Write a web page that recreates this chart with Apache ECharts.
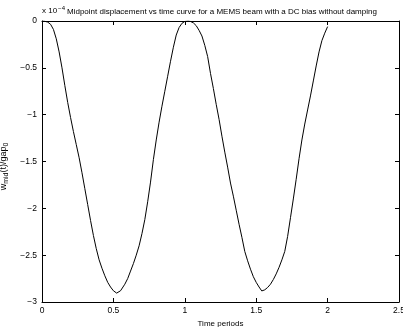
<!DOCTYPE html>
<html>
<head>
<meta charset="utf-8">
<script src="https://cdn.jsdelivr.net/npm/echarts@6/dist/echarts.min.js"></script>
<style>
    html, body { margin: 0; padding: 0; background: #fff; }
    #chart { width: 403px; height: 327px; }
</style>
</head>
<body>
<div id="chart"></div>
<script>
// time in periods, midpoint displacement in units of 1e-4
const timePeriods = [
    0, 0.02, 0.04, 0.06, 0.08, 0.10, 0.12, 0.14, 0.16, 0.18,
    0.20, 0.22, 0.24, 0.26, 0.28, 0.30, 0.32, 0.34, 0.36, 0.38,
    0.40, 0.42, 0.44, 0.46, 0.48, 0.50, 0.523, 0.55, 0.58, 0.60,
    0.62, 0.64, 0.66, 0.68, 0.70, 0.72, 0.74, 0.76, 0.78, 0.80,
    0.82, 0.84, 0.86, 0.88, 0.90, 0.92, 0.94, 0.96, 0.98, 1.00,
    1.024, 1.04, 1.06, 1.08, 1.10, 1.12, 1.14, 1.16, 1.18, 1.20,
    1.22, 1.24, 1.26, 1.28, 1.30, 1.32, 1.34, 1.36, 1.38, 1.40,
    1.42, 1.44, 1.46, 1.48, 1.50, 1.52, 1.539, 1.56, 1.58, 1.60,
    1.62, 1.64, 1.66, 1.68, 1.70, 1.72, 1.74, 1.76, 1.78, 1.80,
    1.82, 1.84, 1.86, 1.88, 1.90, 1.92, 1.94, 1.96, 1.98, 2.00
];
const midDisplacement = [
    0, -0.003, -0.012, -0.035, -0.09, -0.19, -0.33, -0.50, -0.69, -0.87,
    -1.03, -1.18, -1.32, -1.46, -1.62, -1.79, -1.96, -2.13, -2.29, -2.43,
    -2.55, -2.64, -2.72, -2.79, -2.84, -2.88, -2.905, -2.88, -2.81, -2.75,
    -2.67, -2.59, -2.50, -2.40, -2.27, -2.12, -1.93, -1.72, -1.48, -1.27,
    -1.08, -0.91, -0.75, -0.59, -0.43, -0.28, -0.15, -0.07, -0.025, -0.005,
    0, -0.005, -0.02, -0.05, -0.10, -0.16, -0.26, -0.38, -0.56, -0.72,
    -0.89, -1.05, -1.23, -1.40, -1.56, -1.73, -1.87, -2.02, -2.17, -2.31,
    -2.46, -2.56, -2.65, -2.73, -2.79, -2.84, -2.882, -2.87, -2.845, -2.81,
    -2.76, -2.70, -2.63, -2.55, -2.46, -2.30, -2.10, -1.90, -1.69, -1.47,
    -1.27, -1.10, -0.95, -0.80, -0.64, -0.48, -0.33, -0.21, -0.13, -0.06
];

const font = "'Liberation Sans', Arial, sans-serif";
const fmt = v => String(v).replace("-", "\u2212");

// matlab-style box: ticks pointing in on all four sides
const axisLine = { show: true, onZero: false, lineStyle: { color: "#000", width: 1 } };
const axisTick = { show: true, inside: true, length: 4, lineStyle: { color: "#000" } };
const axisLabel = { fontSize: 8.5, color: "#000", fontFamily: font, formatter: fmt };

const chart = echarts.init(document.getElementById("chart"), null, { renderer: "canvas" });

chart.setOption({
    animation: false,
    backgroundColor: "#fff",
    title: {
        text: "Midpoint displacement vs time curve for a MEMS beam with a DC bias without damping",
        left: 67,
        top: 8,
        padding: 0,
        textStyle: { fontSize: 8, fontWeight: "normal", color: "#000", fontFamily: font }
    },
    graphic: [{
        type: "text",
        left: 42,
        top: 5,
        style: {
            text: "{b|x 10}{p|\u22124}",
            rich: {
                b: { fontSize: 8, lineHeight: 8, verticalAlign: "bottom", fontFamily: font, fill: "#000" },
                p: { fontSize: 6, lineHeight: 6, padding: [0, 0, 5, 1], fontFamily: font, fill: "#000" }
            }
        }
    }],
    grid: { left: 42, right: 4, top: 21, bottom: 25, containLabel: false, outerBoundsMode: "none" },
    xAxis: [{
        type: "value",
        min: 0,
        max: 2.5,
        interval: 0.5,
        position: "bottom",
        axisLine, axisTick,
        axisLabel: { ...axisLabel, margin: 4 },
        splitLine: { show: false },
        name: "Time periods",
        nameLocation: "middle",
        nameGap: 16,
        nameTextStyle: { fontSize: 8, color: "#000", fontFamily: font }
    }, {
        type: "value",
        min: 0,
        max: 2.5,
        interval: 0.5,
        position: "top",
        axisLine, axisTick,
        axisLabel: { show: false },
        splitLine: { show: false }
    }],
    yAxis: [{
        type: "value",
        min: -3,
        max: 0,
        interval: 0.5,
        position: "left",
        axisLine, axisTick,
        axisLabel: { ...axisLabel, margin: 5 },
        splitLine: { show: false },
        name: "{a|w}{s|mid}{a|(t)/gap}{s|0}",
        nameLocation: "middle",
        nameRotate: 90,
        nameGap: 27,
        nameTextStyle: {
            padding: [0, 10, 0, 0],
            rich: {
                a: { fontSize: 9, lineHeight: 9, verticalAlign: "top", color: "#000", fontFamily: font },
                s: { fontSize: 7, lineHeight: 7, padding: [5, 0, 0, 0], color: "#000", fontFamily: font }
            }
        }
    }, {
        type: "value",
        min: -3,
        max: 0,
        interval: 0.5,
        position: "right",
        axisLine, axisTick,
        axisLabel: { show: false },
        splitLine: { show: false }
    }],
    series: [{
        type: "line",
        data: timePeriods.map((t, i) => [t, midDisplacement[i]]),
        showSymbol: false,
        smooth: false,
        lineStyle: { color: "#000", width: 1 }
    }]
});
</script>
</body>
</html>
